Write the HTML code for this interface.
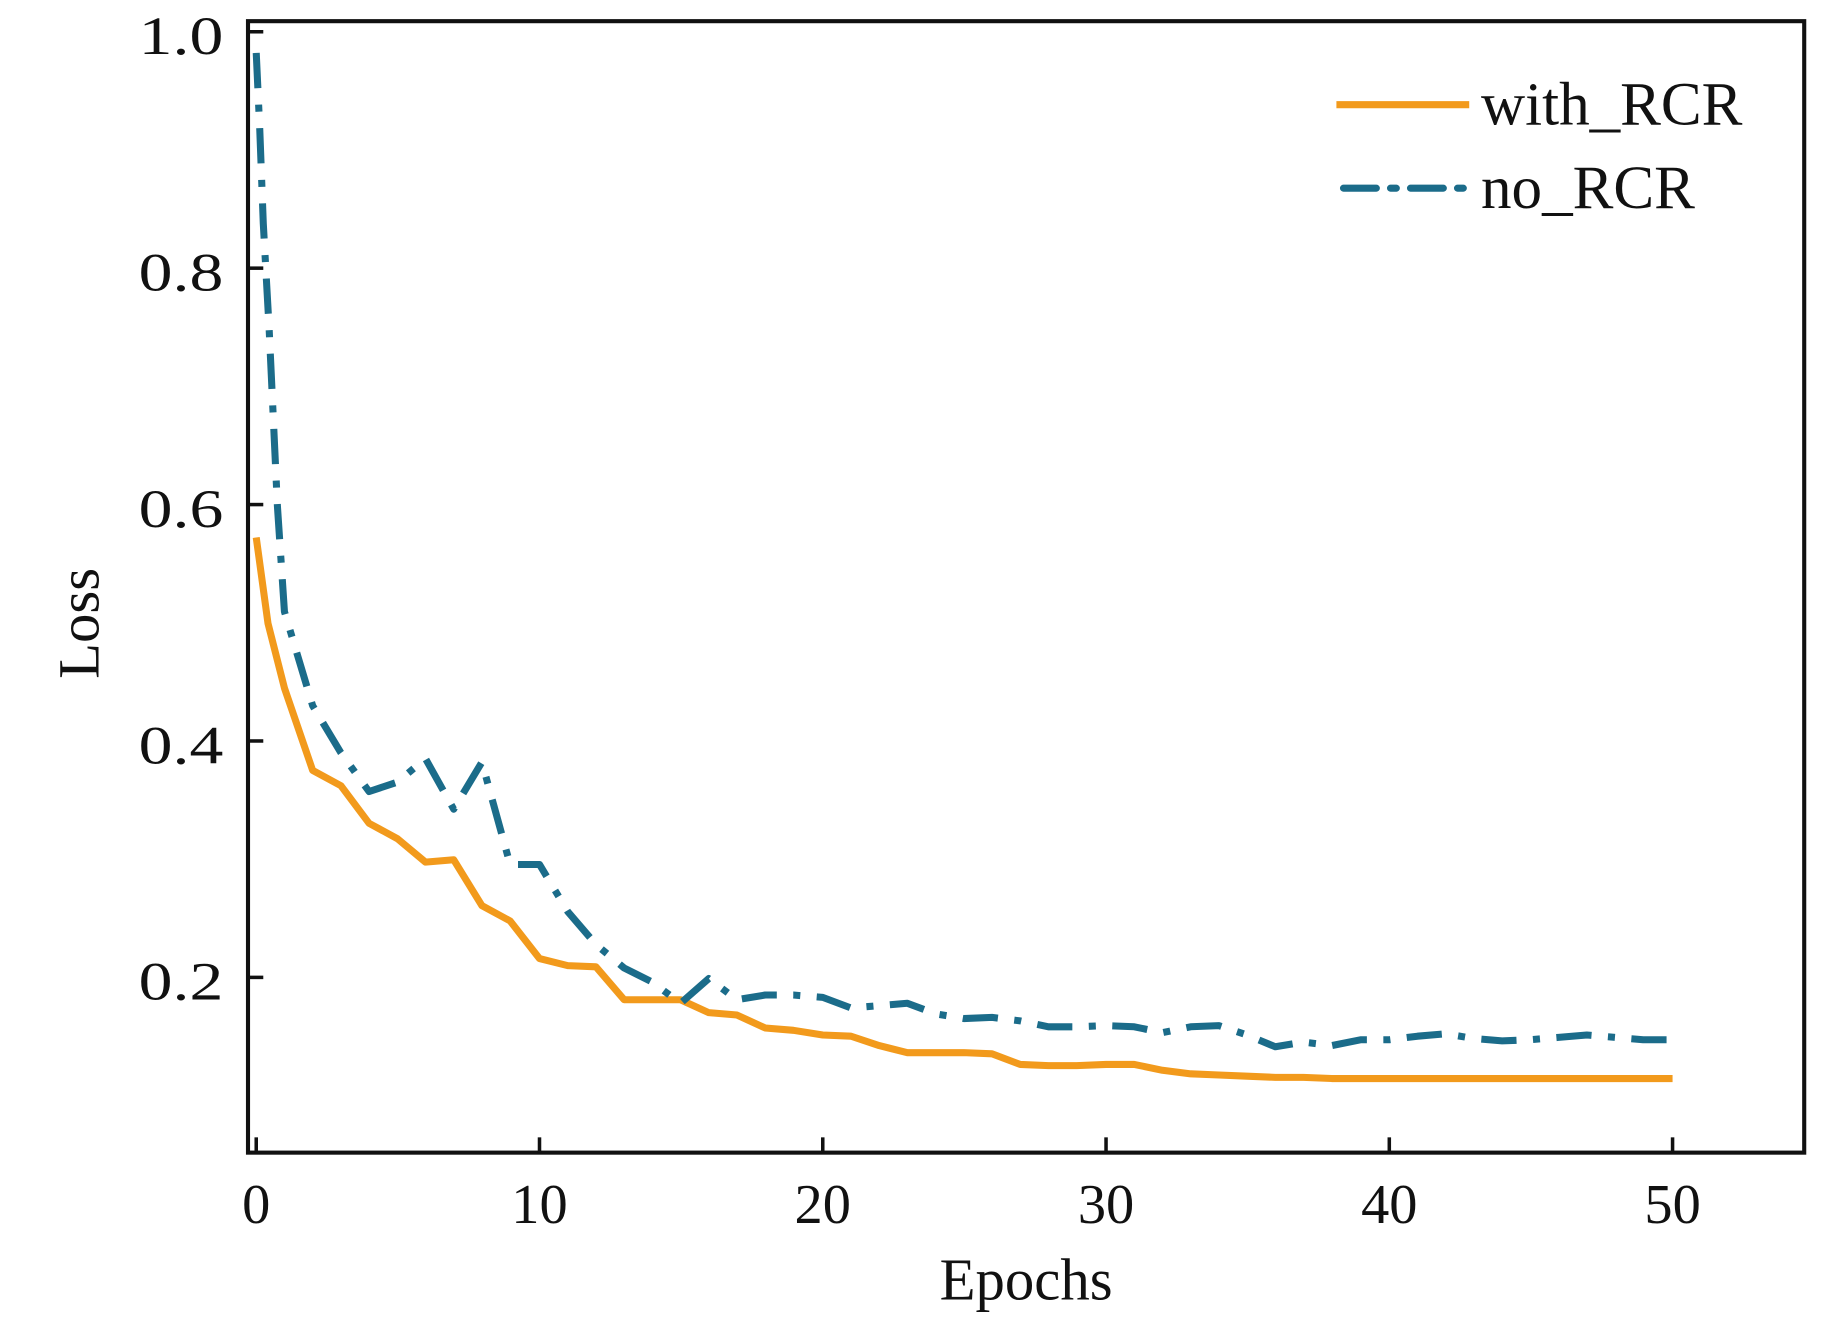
<!DOCTYPE html>
<html><head><meta charset="utf-8"><style>html,body{margin:0;padding:0;background:#fff}svg{display:block}</style></head>
<body>
<svg width="1843" height="1322" viewBox="0 0 1568 1124" preserveAspectRatio="none" xmlns="http://www.w3.org/2000/svg">
<g font-family="Liberation Serif, serif" fill="#111">
<rect x="211" y="18" width="1324" height="962" fill="none" stroke="#111" stroke-width="3.5"/>
<g stroke="#111" stroke-width="3">
<line x1="211" y1="27" x2="224" y2="27"/><line x1="211" y1="228" x2="224" y2="228"/><line x1="211" y1="429" x2="224" y2="429"/><line x1="211" y1="630" x2="224" y2="630"/><line x1="211" y1="831" x2="224" y2="831"/>
<line x1="218" y1="980" x2="218" y2="967"/><line x1="459" y1="980" x2="459" y2="967"/><line x1="700" y1="980" x2="700" y2="967"/><line x1="941" y1="980" x2="941" y2="967"/><line x1="1182" y1="980" x2="1182" y2="967"/><line x1="1423" y1="980" x2="1423" y2="967"/>
</g>
<g font-size="46" text-anchor="end">
<text x="190" y="46" textLength="72" lengthAdjust="spacingAndGlyphs">1.0</text><text x="190" y="247" textLength="72" lengthAdjust="spacingAndGlyphs">0.8</text><text x="190" y="448" textLength="72" lengthAdjust="spacingAndGlyphs">0.6</text><text x="190" y="649" textLength="72" lengthAdjust="spacingAndGlyphs">0.4</text><text x="190" y="850" textLength="72" lengthAdjust="spacingAndGlyphs">0.2</text>
</g>
<g font-size="48" text-anchor="middle">
<text x="218" y="1040">0</text><text x="459" y="1040">10</text><text x="700" y="1040">20</text><text x="941" y="1040">30</text><text x="1182" y="1040">40</text><text x="1423" y="1040">50</text>
</g>
<text x="873" y="1105" font-size="50" text-anchor="middle">Epochs</text>
<text transform="translate(84,530) rotate(-90)" font-size="50" text-anchor="middle">Loss</text>
<text x="1260" y="106" font-size="52">with_RCR</text>
<text x="1260" y="177" font-size="52">no_RCR</text>
</g>
<line x1="1137" y1="89" x2="1250" y2="89" stroke="#f29a1c" stroke-width="6"/>
<line x1="1143" y1="160" x2="1250" y2="160" stroke="#1b6c8a" stroke-width="6" stroke-dasharray="28,12,5,12" stroke-linecap="round"/>
<polyline fill="none" stroke="#f29a1c" stroke-width="6" stroke-linejoin="round" points="218,457 228,530 242,585 266,655 290,668 314,700 338,713 362,733 386,731 410,770 434,783 459,815 483,821 507,822 531,850 555,850 579,850 603,861 627,863 651,874 675,876 700,880 724,881 748,889 772,895 796,895 820,895 844,896 868,905 892,906 916,906 941,905 965,905 989,910 1013,913 1037,914 1061,915 1085,916 1109,916 1133,917 1158,917 1182,917 1206,917 1230,917 1254,917 1278,917 1302,917 1326,917 1350,917 1374,917 1398,917 1423,917"/>
<polyline fill="none" stroke="#1b6c8a" stroke-width="6" stroke-linejoin="round" stroke-dasharray="30,14,6,14" points="218,45 221,110 224,190 229,280 236,430 242,520 266,600 290,640 314,673 338,665 362,645 386,688 410,648 434,735 459,735 483,775 507,803 531,823 555,835 579,853 603,832 627,850 651,846 675,846 700,848 724,857 748,855 772,853 796,862 820,866 844,865 868,868 892,873 916,873 941,872 965,873 989,878 1013,873 1037,872 1061,880 1085,890 1109,886 1133,889 1158,884 1182,884 1206,881 1230,879 1254,883 1278,885 1302,884 1326,882 1350,880 1374,882 1398,884 1423,884"/>
</svg>
</body></html>
